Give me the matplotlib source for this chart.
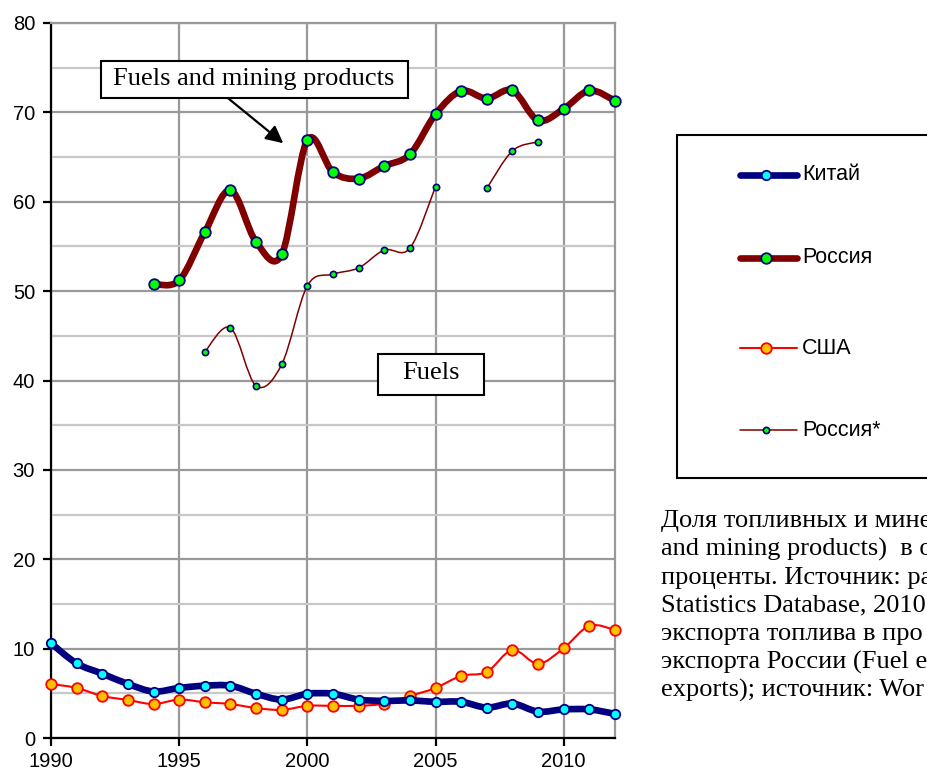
import numpy as np
import matplotlib
matplotlib.use('Agg')
import matplotlib.pyplot as plt
from matplotlib.path import Path
from matplotlib.patches import PathPatch, Rectangle
from matplotlib.lines import Line2D


years = list(range(1990, 2013))

china = [10.6, 8.35, 7.2, 6.05, 5.2, 5.6, 5.85, 5.85, 4.95, 4.3, 4.95, 4.95,
         4.3, 4.15, 4.2, 4.05, 4.05, 3.4, 3.85, 2.95, 3.2, 3.2, 2.7]

usa = [6.05, 5.6, 4.7, 4.25, 3.8, 4.3, 4.0, 3.8, 3.35, 3.15, 3.6, 3.6,
       3.6, 3.85, 4.7, 5.6, 6.95, 7.4, 9.85, 8.3, 10.05, 12.55, 12.1]

# Fuels and mining products, Russia (from 1994)
russia_years = list(range(1994, 2013))
russia = [50.8, 51.2, 56.6, 61.3, 55.5, 54.1, 66.9, 63.3, 62.6, 64.0, 65.3,
          69.8, 72.4, 71.55, 72.45, 69.1, 70.4, 72.45, 71.3]

# Fuels only, Russia* (no value for 2006)
fuel_years = list(range(1996, 2010))
fuel = [43.2, 45.9, 39.4, 41.8, 50.6, 51.9, 52.6, 54.6, 54.8, 61.7, np.nan,
        61.5, 65.7, 66.7]

legend_names = ['Китай', 'Россия', 'США', 'Россия*']

# caption as far as it is visible (cut by the picture edge)
caption = ['Доля топливных и мине',
           'and mining products)  в о',
           'проценты. Источник: ра',
           'Statistics Database, 2010',
           'экспорта топлива в про',
           'экспорта России (Fuel e',
           'exports); источник: Wor']


def smooth_path(xs, ys):
    # excel-like smoothed line through the points (cubic bezier)
    pts = np.column_stack([xs, ys]).astype(float)
    n = len(pts)
    verts = [pts[0]]
    codes = [Path.MOVETO]
    for i in range(n - 1):
        p0 = pts[i - 1] if i > 0 else pts[i]
        p1 = pts[i]
        p2 = pts[i + 1]
        p3 = pts[i + 2] if i + 2 < n else pts[i + 1]
        verts += [p1 + (p2 - p0) / 6, p2 - (p3 - p1) / 6, p2]
        codes += [Path.CURVE4] * 3
    return Path(verts, codes)


def draw_series(ax, xs, ys, lc, lw, mfc, mec, ms, mew, z):
    xs = np.array(xs, dtype=float)
    ys = np.array(ys, dtype=float)
    ok = ~np.isnan(ys)
    # split into runs at the gaps
    idx = np.where(ok)[0]
    runs = np.split(idx, np.where(np.diff(idx) > 1)[0] + 1)
    for r in runs:
        if len(r) > 1:
            ax.add_patch(PathPatch(smooth_path(xs[r], ys[r]), fill=False,
                                   edgecolor=lc, lw=lw, zorder=z,
                                   capstyle='round', joinstyle='round',
                                   clip_on=False))
    ax.plot(xs[ok], ys[ok], linestyle='none', marker='o', ms=ms, mfc=mfc,
            mec=mec, mew=mew, zorder=z + 0.5, clip_on=False)


W, H = 928, 774
fig = plt.figure(figsize=(W / 100, H / 100), dpi=100)
ax = fig.add_axes([51 / W, 1 - 738 / H, 564 / W, 715 / H])

styles = [
    dict(lc='#000080', lw=4.8, mfc='#00FFFF', mec='#000080', ms=6.8, mew=1.3),
    dict(lc='#800000', lw=4.8, mfc='#00FF00', mec='#000080', ms=7.6, mew=1.3),
    dict(lc='#FF0000', lw=1.5, mfc='#FFC000', mec='#FF0000', ms=7.6, mew=1.3),
    dict(lc='#800000', lw=1.1, mfc='#00FF00', mec='#000080', ms=4.5, mew=1.2),
]

draw_series(ax, years, usa, z=4, **styles[2])
draw_series(ax, years, china, z=5, **styles[0])
draw_series(ax, fuel_years, fuel, z=6, **styles[3])
draw_series(ax, russia_years, russia, z=7, **styles[1])

ax.set_xlim(1990, 2012)
ax.set_ylim(0, 80)
ax.set_xticks([1990, 1995, 2000, 2005, 2010])
ax.set_yticks(range(0, 81, 10))
ax.set_yticks(range(5, 80, 10), minor=True)
ax.tick_params(axis='both', which='major', direction='out', length=6,
               width=1.6, color='black', labelsize=14.5)
ax.tick_params(axis='y', which='major', pad=5.5)
ax.tick_params(axis='x', which='major', pad=4)
ax.tick_params(axis='y', which='minor', length=0)
for lab in ax.get_xticklabels() + ax.get_yticklabels():
    lab.set_fontfamily('Liberation Sans')

ax.grid(True, axis='y', which='major', color='#999999', lw=1.6, zorder=0)
ax.grid(True, axis='y', which='minor', color='#c8c8c8', lw=1.6, zorder=0)
ax.grid(True, axis='x', which='major', color='#999999', lw=1.6, zorder=0)
ax.spines['left'].set_linewidth(1.6)
ax.spines['bottom'].set_linewidth(1.6)
ax.spines['top'].set_color('#999999')
ax.spines['right'].set_color('#999999')
ax.spines['top'].set_linewidth(1.6)
ax.spines['right'].set_linewidth(1.6)

# text boxes inside the plot
ax.add_patch(Rectangle((0.0881, 0.8955), 0.5449, 0.0514, transform=ax.transAxes,
                       facecolor='white', edgecolor='black', lw=1.5, zorder=8))
ax.text(0.3600, 0.922, 'Fuels and mining products', transform=ax.transAxes,
        ha='center', va='center', fontsize=19, family='Liberation Serif', zorder=9)
ax.annotate('', xy=(1999.06, 66.55), xytext=(1996.9, 71.6),
            arrowprops=dict(arrowstyle='-|>', color='black', lw=1.6,
                            mutation_scale=26, shrinkA=0, shrinkB=0), zorder=9)

ax.add_patch(Rectangle((0.5798, 0.4797), 0.1879, 0.0573, transform=ax.transAxes,
                       facecolor='white', edgecolor='black', lw=1.5, zorder=8))
ax.text(0.6738, 0.510, 'Fuels', transform=ax.transAxes,
        ha='center', va='center', fontsize=19, family='Liberation Serif', zorder=9)


# legend box (drawn by hand, runs off the right edge like the original)
def fx(px):
    return px / W


def fy(py):
    return 1 - py / H


fig.add_artist(Rectangle((fx(677), fy(478)), fx(940) - fx(677), fy(135) - fy(478),
                         transform=fig.transFigure, facecolor='white',
                         edgecolor='black', lw=1.5))
rows = [175, 258, 348, 430]
for name, st, ry in zip(legend_names, styles, rows):
    fig.add_artist(Line2D([fx(740), fx(797)], [fy(ry), fy(ry)], color=st['lc'],
                          lw=st['lw'], solid_capstyle='round',
                          transform=fig.transFigure))
    fig.add_artist(Line2D([fx(766)], [fy(ry)], marker='o', ms=st['ms'],
                          mfc=st['mfc'], mec=st['mec'], mew=st['mew'],
                          transform=fig.transFigure))
    fig.text(fx(802), fy(ry), name, ha='left', va='center', fontsize=15.5,
             family='Liberation Sans')

# caption, cut by the right edge
for i, line in enumerate(caption):
    fig.text(fx(661), fy(527 + i * 28.3), line, ha='left', va='baseline',
             fontsize=19, family='Liberation Serif')

fig.savefig('out.png', dpi=100)
